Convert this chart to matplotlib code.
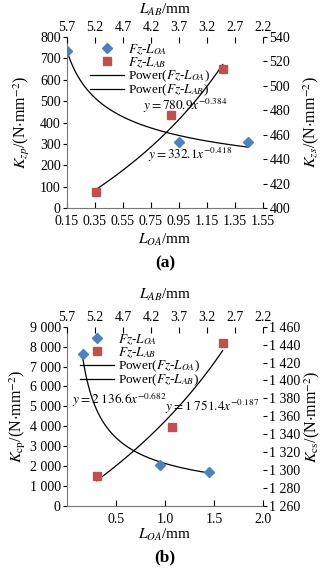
import numpy as np
import matplotlib
matplotlib.use("Agg")
import matplotlib.pyplot as plt
from matplotlib.ticker import FuncFormatter

plt.rcParams['font.family'] = ['Liberation Serif', 'DejaVu Serif']
plt.rcParams['mathtext.fontset'] = 'stix'
plt.rcParams['font.size'] = 10

# (a) data
a_loa = [0.15, 0.95, 1.44]
a_kp = [735, 310, 310]
a_lab = [5.19, 3.84, 2.92]
a_ks = [413, 476, 514]
a_fit_loa = (332.1, -0.418)
a_fit_lab = (780.9, -0.384)

# (b) data
b_loa = [0.16, 0.95, 1.45]
b_kp = [7630, 2060, 1720]
b_lab = [5.17, 3.83, 2.92]
b_ks = [1293, 1348, 1442]
b_fit_loa = (2136.6, -0.682)
b_fit_lab = (1751.4, -0.187)

top_ticks = [5.7, 5.2, 4.7, 4.2, 3.7, 3.2, 2.7, 2.2]
blue = '#4F81BD'
red = '#C0504D'


def sp(v, p):
    return f"{int(round(v)):,}".replace(",", " ")


fig = plt.figure(figsize=(3.31, 5.75), dpi=100)


def panel(rect, loa, kp, lab, ks, fit1, fit2, xlim, xticks, xlabs, ylim1, yt1, ylim2, yt2,
          fmt, ann1, ann2, leg_xy, letter, ylab_l, ylab_r, ylx, yrx, top_y, bot_y, let_y):
    ax = fig.add_axes(rect)
    ax2 = fig.add_axes(rect, frameon=False)
    ax2.xaxis.set_ticks_position('top')
    ax2.yaxis.set_ticks_position('right')
    ax2.patch.set_alpha(0)

    xs = np.linspace(min(loa), max(loa), 100)
    l1, = ax.plot(xs, fit1[0] * xs ** fit1[1], color='black', lw=0.9)
    s1, = ax.plot(loa, kp, 'D', color=blue, ms=5, lw=0)
    xs2 = np.linspace(min(lab), max(lab), 100)
    l2, = ax2.plot(xs2, fit2[0] * xs2 ** fit2[1], color='black', lw=0.9)
    s2, = ax2.plot(lab, ks, 's', color=red, ms=5.5, lw=0)

    ax.set_xlim(*xlim)
    ax.set_xticks(xticks)
    ax.set_xticklabels(xlabs)
    ax.set_ylim(*ylim1)
    ax.set_yticks(yt1)
    ax2.set_xlim(5.7, 2.2)
    ax2.set_xticks(top_ticks)
    ax2.set_xticklabels([f"{t:.1f}" for t in top_ticks])
    ax2.set_ylim(*ylim2)
    ax2.set_yticks(yt2)
    if fmt:
        ax.yaxis.set_major_formatter(FuncFormatter(sp))
        ax2.yaxis.set_major_formatter(FuncFormatter(sp))

    ax.tick_params(axis='x', direction='in', length=4, pad=5, width=0.8)
    ax.tick_params(axis='y', direction='out', length=3, pad=1.5, width=0.8)
    ax2.tick_params(axis='x', direction='in', length=4, pad=2, width=0.8)
    ax2.tick_params(axis='y', direction='out', length=3, pad=1.5, width=0.8)
    for s in ['left', 'bottom']:
        ax.spines[s].set_color('#777777')
    ax.spines['top'].set_visible(False)
    ax.spines['right'].set_visible(False)

    ax.text(*ann1[1], ann1[0], fontsize=9.5, va='center')
    ax.text(*ann2[1], ann2[0], fontsize=9.5, va='center')

    ax2.legend([s1, s2, l1, l2],
               ['$Fz$-$L_{OA}$', '$Fz$-$L_{AB}$', 'Power($Fz$-$L_{OA}$)', 'Power($Fz$-$L_{AB}$)'],
               loc='upper left', bbox_to_anchor=leg_xy, bbox_transform=fig.transFigure,
               frameon=False, fontsize=9.5, handlelength=2.6, handletextpad=0.3,
               labelspacing=-0.1, borderpad=0, borderaxespad=0)

    cy = rect[1] + rect[3] / 2
    fig.text(ylx, cy, ylab_l, rotation=90, ha='center', va='center', fontsize=11.5)
    fig.text(yrx, cy, ylab_r, rotation=90, ha='center', va='center', fontsize=11.5)
    cx = rect[0] + rect[2] / 2
    fig.text(cx, top_y, '$L_{AB}$/mm', ha='center', va='center', fontsize=11)
    fig.text(cx, bot_y, '$L_{OA}$/mm', ha='center', va='center', fontsize=11)
    fig.text(cx, let_y, letter, ha='center', va='center', fontsize=12.5, fontweight='bold')


H = 575.0
W = 331.0

panel([67 / W, 1 - 208 / H, 196 / W, 171 / H],
      a_loa, a_kp, a_lab, a_ks, a_fit_loa, a_fit_lab,
      (0.15, 1.55), np.arange(0.15, 1.56, 0.2), [f"{v:.2f}" for v in np.arange(0.15, 1.56, 0.2)],
      (0, 800), range(0, 801, 100), (400, 540), range(400, 541, 20), False,
      ('$y=780.9x^{-0.384}$', (0.69, 478)), ('$y=332.1x^{-0.418}$', (0.73, 248)),
      (90 / W, 1 - 42 / H), '(a)',
      '$K_{zp}$/(N$\\cdot$mm$^{-2}$)', '$K_{zs}$/(N$\\cdot$mm$^{-2}$)',
      22 / W, 311 / W, 1 - 10 / H, 1 - 240 / H, 1 - 263 / H)

panel([67 / W, 1 - 506 / H, 196 / W, 179.3 / H],
      b_loa, b_kp, b_lab, b_ks, b_fit_loa, b_fit_lab,
      (0, 2.0), [0.5, 1.0, 1.5, 2.0], ['0.5', '1.0', '1.5', '2.0'],
      (0, 9000), range(0, 9001, 1000), (1260, 1460), range(1260, 1461, 20), True,
      ('$y=2\\ 136.6x^{-0.682}$', (0.05, 5350)), ('$y=1\\ 751.4x^{-0.187}$', (1.0, 4950)),
      (80 / W, 1 - 332 / H), '(b)',
      '$K_{\\mathrm{cp}}$/(N$\\cdot$mm$^{-2}$)', '$K_{\\mathrm{cs}}$/(N$\\cdot$mm$^{-2}$)',
      18 / W, 312 / W, 1 - 295 / H, 1 - 535 / H, 1 - 557 / H)

fig.savefig('out.png', dpi=100)
